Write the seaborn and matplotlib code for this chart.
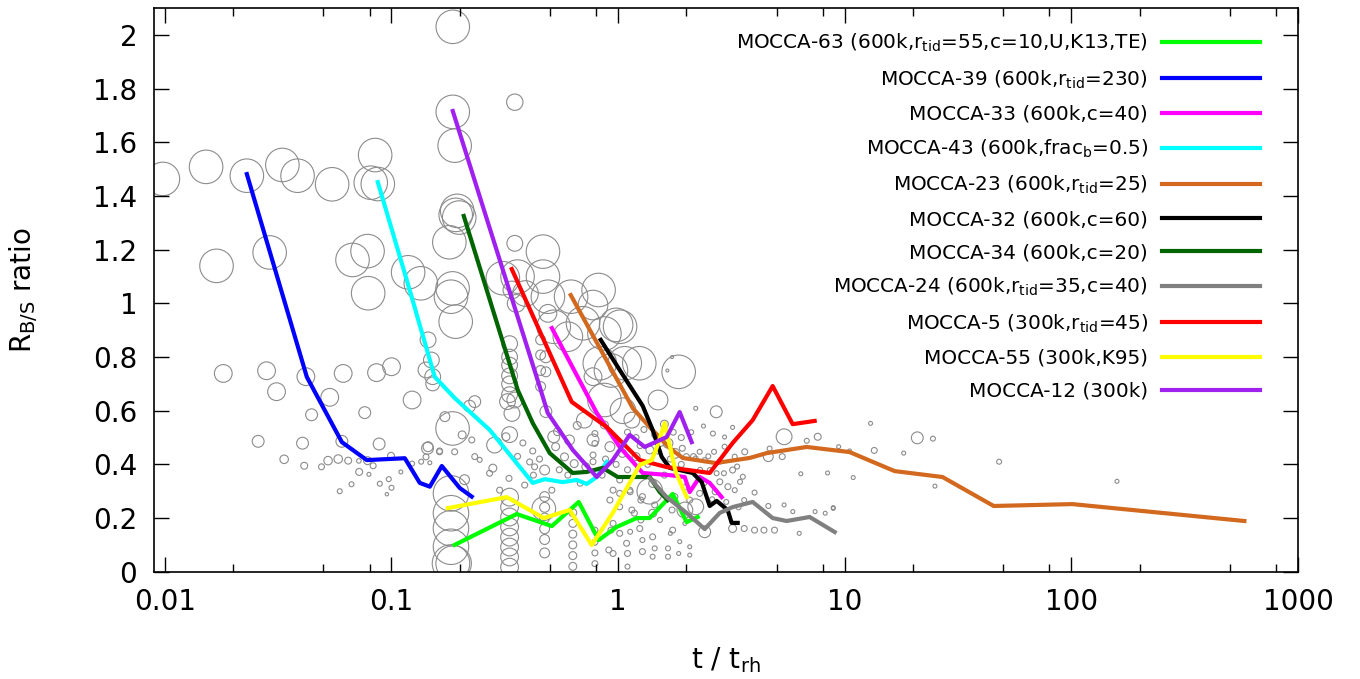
import numpy as np
import pandas as pd
import matplotlib
matplotlib.use("Agg")
import matplotlib.pyplot as plt
import seaborn as sns
from matplotlib.ticker import LogLocator, NullFormatter, FuncFormatter, MultipleLocator

plt.rcParams['font.family'] = ['DejaVu Sans']
plt.rcParams['mathtext.default'] = 'regular'

# ---------------- model curves (t / t_rh , R_B/S) ----------------
m63_t = [0.190, 0.357, 0.510, 0.670, 0.821, 0.986, 1.208, 1.378, 1.741, 2.007, 2.244]
m63_r = [0.100, 0.215, 0.170, 0.260, 0.118, 0.167, 0.200, 0.200, 0.290, 0.185, 0.204]

m39_t = [0.0230, 0.0423, 0.0604, 0.0778, 0.1145, 0.1333, 0.1476, 0.1667, 0.2001, 0.2260]
m39_r = [1.482, 0.726, 0.483, 0.416, 0.423, 0.331, 0.317, 0.394, 0.312, 0.280]

m33_t = [0.510, 0.8045, 1.016, 1.284, 1.689, 1.967, 2.069, 2.291, 2.536, 2.864]
m33_r = [0.908, 0.592, 0.465, 0.368, 0.360, 0.353, 0.297, 0.353, 0.331, 0.278]

m43_t = [0.0870, 0.1168, 0.1552, 0.1902, 0.2715, 0.420, 0.4746, 0.5694, 0.6568, 0.727, 0.8045, 0.891]
m43_r = [1.452, 1.087, 0.726, 0.647, 0.528, 0.331, 0.345, 0.334, 0.342, 0.327, 0.353, 0.409]

m23_t = [0.618, 1.160, 1.378, 1.689, 1.928, 2.695, 3.806, 4.523, 6.79, 10.5, 16.6, 27.0, 45.4, 101.0, 580.0]
m23_r = [1.031, 0.610, 0.539, 0.461, 0.424, 0.405, 0.424, 0.442, 0.465, 0.446, 0.375, 0.353, 0.245, 0.252, 0.189]

m32_t = [0.838, 1.016, 1.284, 1.421, 1.557, 1.689, 2.134, 2.338, 2.536, 2.722, 3.044, 3.170, 3.37]
m32_r = [0.864, 0.752, 0.618, 0.528, 0.428, 0.387, 0.368, 0.334, 0.245, 0.264, 0.230, 0.182, 0.182]

m34_t = [0.2084, 0.3607, 0.420, 0.4993, 0.6307, 0.727, 0.855, 0.996, 1.378, 1.526, 1.655]
m34_r = [1.326, 0.677, 0.554, 0.442, 0.368, 0.372, 0.387, 0.353, 0.353, 0.297, 0.267]

m24_t = [1.378, 1.638, 2.007, 2.41, 2.807, 3.203, 3.924, 4.345, 4.808, 5.54, 7.0, 9.03]
m24_r = [0.349, 0.278, 0.219, 0.159, 0.219, 0.241, 0.260, 0.230, 0.200, 0.189, 0.204, 0.148]

m5_t = [0.3394, 0.624, 0.891, 1.246, 1.638, 2.536, 3.203, 3.924, 4.808, 5.89, 7.366]
m5_r = [1.128, 0.633, 0.539, 0.416, 0.390, 0.368, 0.480, 0.565, 0.692, 0.550, 0.562]

m55_t = [0.1772, 0.3226, 0.4697, 0.6116, 0.7648, 0.947, 1.246, 1.407, 1.495, 1.605, 1.795, 2.007]
m55_r = [0.237, 0.278, 0.200, 0.230, 0.0995, 0.219, 0.398, 0.416, 0.472, 0.554, 0.372, 0.278]

m12_t = [0.1864, 0.4556, 0.489, 0.6307, 0.8045, 0.947, 1.125, 1.310, 1.638, 1.869, 2.112]
m12_r = [1.717, 0.677, 0.592, 0.454, 0.353, 0.416, 0.510, 0.465, 0.502, 0.595, 0.483]

labels = [
    'MOCCA-63 (600k,r$_{tid}$=55,c=10,U,K13,TE)',
    'MOCCA-39 (600k,r$_{tid}$=230)',
    'MOCCA-33 (600k,c=40)',
    'MOCCA-43 (600k,frac$_{b}$=0.5)',
    'MOCCA-23 (600k,r$_{tid}$=25)',
    'MOCCA-32 (600k,c=60)',
    'MOCCA-34 (600k,c=20)',
    'MOCCA-24 (600k,r$_{tid}$=35,c=40)',
    'MOCCA-5 (300k,r$_{tid}$=45)',
    'MOCCA-55 (300k,K95)',
    'MOCCA-12 (300k)',
]
colors = ['#00ff00', '#0000ff', '#ff00ff', '#00ffff', '#d2691e', '#000000',
          '#006400', '#808080', '#ff0000', '#ffff00', '#a020f0']
series_t = [m63_t, m39_t, m33_t, m43_t, m23_t, m32_t, m34_t, m24_t, m5_t, m55_t, m12_t]
series_r = [m63_r, m39_r, m33_r, m43_r, m23_r, m32_r, m34_r, m24_r, m5_r, m55_r, m12_r]

# ---------------- observed clusters: (t/t_rh, R_B/S, symbol size) ----------------
obs_big_left = [
    (0.0098, 1.464, 17), (0.0152, 1.509, 17), (0.0230, 1.476, 17), (0.0330, 1.516, 17),
    (0.0385, 1.476, 17), (0.0547, 1.444, 17), (0.0810, 1.450, 17), (0.0870, 1.445, 17),
    (0.0847, 1.553, 17), (0.0169, 1.140, 17), (0.0290, 1.190, 17), (0.0673, 1.162, 17),
    (0.0784, 1.195, 17), (0.1184, 1.116, 17), (0.1347, 1.075, 17), (0.0789, 1.038, 17),
    (0.1864, 2.031, 17), (0.1864, 1.714, 17), (0.1900, 1.588, 17), (0.1950, 1.345, 17),
    (0.1920, 1.330, 17), (0.1990, 1.320, 17), (0.1800, 1.228, 17), (0.1860, 1.056, 17),
    (0.1830, 1.025, 17), (0.1920, 0.932, 17), (0.1860, 0.534, 17), (0.1830, 0.292, 18),
    (0.1830, 0.218, 18), (0.1830, 0.162, 18), (0.1830, 0.093, 18), (0.1830, 0.031, 19),
    (0.1880, 0.031, 18),
]
obs_big_mid = [
    (0.466, 1.193, 17), (0.310, 1.094, 17), (0.360, 1.100, 17), (0.466, 1.100, 17),
    (0.490, 1.025, 17), (0.390, 1.037, 13), (0.620, 1.025, 17), (0.820, 1.050, 17),
    (0.775, 0.994, 15), (1.020, 0.913, 17), (0.700, 0.926, 17), (0.520, 0.913, 17),
    (0.600, 0.876, 15), (1.240, 0.777, 17), (0.830, 0.777, 17), (1.850, 0.745, 17),
    (1.070, 0.777, 17), (0.870, 0.888, 17), (0.930, 0.750, 17), (0.870, 0.640, 17),
    (1.050, 0.600, 13), (1.500, 0.640, 10), (0.980, 0.920, 17), (0.470, 0.235, 12),
    (1.380, 0.300, 13), (0.350, 1.750, 8.3), (0.350, 1.224, 8), (0.340, 1.050, 9),
    (0.355, 1.000, 9), (0.490, 0.963, 9), (0.775, 0.727, 9), (0.480, 0.801, 6),
    (0.480, 0.745, 5),
]
obs_small_left = [
    (0.0181, 0.739, 9), (0.0281, 0.749, 9), (0.0311, 0.671, 9), (0.0419, 0.727, 9),
    (0.0612, 0.739, 9), (0.0859, 0.742, 9), (0.0534, 0.650, 9), (0.1000, 0.764, 9),
    (0.1233, 0.640, 9), (0.0444, 0.585, 6), (0.0762, 0.593, 6), (0.0258, 0.486, 6),
    (0.0405, 0.479, 6), (0.0604, 0.486, 6), (0.0882, 0.476, 6), (0.1442, 0.460, 6),
    (0.0336, 0.419, 4.3), (0.0412, 0.395, 3.5), (0.0491, 0.391, 3), (0.0525, 0.414, 4.3),
    (0.0582, 0.420, 4.3), (0.0644, 0.414, 3.5), (0.0718, 0.413, 2.3), (0.0784, 0.414, 4),
    (0.0830, 0.395, 3), (0.0720, 0.372, 3.5), (0.0795, 0.363, 2), (0.0591, 0.300, 2.5),
    (0.0666, 0.326, 2.5), (0.0888, 0.328, 2.5), (0.0973, 0.345, 2.5), (0.0954, 0.289, 1.7),
    (0.1000, 0.313, 2.5), (0.1100, 0.372, 2), (0.1233, 0.403, 2.5), (0.0995, 0.432, 3.5),
    (0.1352, 0.410, 2.5), (0.1476, 0.406, 2), (0.1420, 0.428, 3), (0.1630, 0.447, 3),
    (0.1450, 0.864, 8), (0.1500, 0.789, 8), (0.1420, 0.752, 8), (0.1520, 0.727, 8),
    (0.1520, 0.700, 7),
]
obs_small_mid = [
    (0.172, 0.578, 5), (0.233, 0.634, 6), (0.221, 0.617, 6), (0.145, 0.466, 5),
    (0.163, 0.450, 3), (0.190, 0.447, 3), (0.233, 0.429, 3), (0.245, 0.417, 2.5),
    (0.210, 0.343, 5), (0.285, 0.472, 8), (0.320, 0.503, 4), (0.325, 0.634, 8),
    (0.350, 0.640, 8), (0.340, 0.590, 8), (0.332, 0.511, 8), (0.280, 0.386, 4),
    (0.271, 0.367, 3), (0.330, 0.348, 3), (0.300, 0.304, 3), (0.387, 0.323, 3),
    (0.407, 0.409, 3), (0.428, 0.391, 3), (0.423, 0.360, 3), (0.474, 0.379, 5),
    (0.480, 0.597, 6), (0.540, 0.522, 4), (0.530, 0.466, 4), (0.510, 0.304, 3),
    (0.580, 0.428, 4), (0.640, 0.403, 4), (0.660, 0.545, 4), (0.790, 0.515, 3),
    (0.790, 0.478, 3), (0.775, 0.435, 3), (0.775, 0.410, 3), (0.205, 0.510, 4),
    (0.226, 0.491, 3), (0.520, 0.503, 6), (0.720, 0.391, 4), (0.775, 0.491, 6),
    (0.870, 0.547, 4), (1.150, 0.565, 8), (0.710, 0.565, 8), (0.610, 0.491, 5),
    (0.600, 0.360, 3), (0.680, 0.330, 3), (0.550, 0.380, 3), (0.450, 0.420, 3),
    (0.420, 0.450, 3), (0.380, 0.480, 3), (0.360, 0.430, 3), (0.880, 0.420, 3),
    (0.850, 0.360, 3), (0.980, 0.400, 3),
]
obs_columns = [
    (0.332, 0.850, 8), (0.332, 0.800, 8), (0.332, 0.770, 8), (0.332, 0.730, 8),
    (0.332, 0.700, 8), (0.332, 0.660, 8),
    (0.332, 0.278, 9), (0.332, 0.241, 9), (0.332, 0.204, 9), (0.332, 0.167, 9),
    (0.332, 0.129, 9), (0.332, 0.092, 9), (0.332, 0.055, 9), (0.332, 0.017, 9),
    (0.455, 0.864, 5), (0.455, 0.808, 5), (0.455, 0.750, 5), (0.455, 0.690, 5),
    (0.474, 0.280, 5), (0.474, 0.240, 5), (0.474, 0.200, 5), (0.474, 0.160, 5),
    (0.474, 0.120, 5), (0.474, 0.070, 5),
    (0.631, 0.220, 4), (0.631, 0.180, 4), (0.631, 0.140, 4), (0.631, 0.100, 4),
    (0.631, 0.060, 4), (0.631, 0.020, 4),
    (0.790, 0.155, 3), (0.790, 0.110, 3), (0.790, 0.070, 3), (0.790, 0.030, 3),
]
obs_dense = [
    (0.950, 0.180, 3), (1.016, 0.143, 3), (1.090, 0.106, 3), (1.100, 0.068, 3),
    (0.950, 0.068, 3), (1.280, 0.075, 3), (1.180, 0.218, 3), (1.246, 0.161, 3),
    (1.420, 0.130, 3), (0.950, 0.304, 3), (1.016, 0.342, 3), (1.125, 0.304, 3),
    (1.280, 0.280, 3), (1.420, 0.329, 4), (1.420, 0.218, 4), (0.930, 0.155, 3),
    (0.910, 0.081, 3), (1.100, 0.019, 2.5), (1.280, 0.118, 2.5), (1.450, 0.087, 2.5),
    (1.420, 0.056, 2.5), (1.660, 0.087, 2.5), (1.660, 0.056, 2.5), (1.870, 0.112, 2),
    (1.850, 0.068, 2), (2.070, 0.093, 2), (2.070, 0.062, 2), (1.700, 0.143, 2),
    (1.130, 0.149, 2.5), (1.530, 0.193, 2.5), (1.740, 0.155, 3), (1.970, 0.180, 2),
    (2.410, 0.149, 6), (2.200, 0.242, 8), (1.970, 0.230, 8),
    (3.200, 0.161, 4), (3.600, 0.161, 3), (4.000, 0.155, 3), (4.400, 0.155, 3),
    (4.900, 0.155, 3), (6.300, 0.143, 2), (5.400, 0.249, 2), (5.900, 0.224, 2),
    (7.400, 0.224, 2), (8.200, 0.218, 2), (8.900, 0.236, 2), (6.400, 0.365, 2),
    (8.400, 0.368, 2), (10.90, 0.351, 2), (4.600, 0.245, 2.5), (3.600, 0.267, 2.5),
    (3.270, 0.304, 2.5), (3.450, 0.335, 2.5), (4.000, 0.295, 2.5), (3.550, 0.354, 2.5),
    (3.200, 0.379, 3), (2.930, 0.367, 2.5), (3.350, 0.392, 2.5), (3.620, 0.447, 3),
    (3.270, 0.429, 2.5), (2.950, 0.466, 2.5), (2.650, 0.447, 2.5), (2.620, 0.515, 2.5),
    (2.290, 0.447, 2.5), (2.200, 0.422, 2.5), (2.410, 0.416, 2.5), (2.540, 0.379, 2.5),
    (2.720, 0.367, 2.5), (2.810, 0.335, 3), (3.050, 0.317, 3), (2.680, 0.298, 3),
    (2.290, 0.292, 3), (2.000, 0.317, 3), (2.070, 0.267, 3), (1.780, 0.280, 3),
    (1.730, 0.230, 3), (1.450, 0.249, 3), (1.260, 0.267, 3), (1.130, 0.298, 3),
    (1.016, 0.292, 3), (0.920, 0.267, 3), (1.016, 0.242, 3), (1.150, 0.230, 3),
    (1.260, 0.193, 3), (0.920, 0.466, 5), (1.045, 0.441, 4), (1.200, 0.429, 4),
    (1.380, 0.454, 4), (1.530, 0.485, 5), (1.660, 0.479, 5), (1.780, 0.441, 5),
    (1.920, 0.460, 3), (2.000, 0.429, 3), (2.150, 0.429, 3), (1.730, 0.800, 1.5),
    (1.650, 0.750, 1.5), (2.710, 0.596, 6), (2.200, 0.609, 2), (2.380, 0.543, 2),
    (3.200, 0.538, 2), (2.950, 0.502, 2), (4.600, 0.429, 5), (5.300, 0.429, 3),
    (4.660, 0.459, 2.5), (5.400, 0.503, 8), (7.600, 0.503, 3.5),
    (1.100, 0.520, 3), (1.200, 0.500, 3), (1.300, 0.530, 3), (1.450, 0.510, 3),
    (1.600, 0.550, 4), (1.750, 0.520, 3), (1.900, 0.500, 3), (2.100, 0.520, 2.5),
    (1.250, 0.470, 3), (1.500, 0.450, 3), (1.700, 0.420, 3), (1.900, 0.400, 3),
    (2.300, 0.380, 2.5), (2.500, 0.430, 2.5), (2.800, 0.410, 2.5), (1.350, 0.400, 3),
    (1.100, 0.380, 3), (1.600, 0.360, 3), (2.400, 0.330, 2.5), (2.600, 0.270, 2.5),
    (3.000, 0.260, 2.5), (3.400, 0.240, 2.5),
]
obs_far = [
    (6.800, 0.488, 2.5), (13.00, 0.553, 2), (20.90, 0.499, 6), (24.50, 0.496, 2.5),
    (13.50, 0.452, 3), (9.400, 0.466, 2), (10.50, 0.450, 2), (18.20, 0.442, 2),
    (48.00, 0.410, 2.5), (25.00, 0.319, 2), (159.0, 0.337, 2), (8.900, 0.239, 2),
]

obs = pd.DataFrame(obs_big_left + obs_big_mid + obs_small_left + obs_small_mid
                   + obs_columns + obs_dense + obs_far,
                   columns=['t', 'ratio', 'size'])

# ---------------- figure ----------------
fig = plt.figure(figsize=(13.6, 6.79), dpi=100)
ax = fig.add_axes([0.1132, 0.158, 0.8412, 0.8298])

area = (1.42 * obs['size'].to_numpy()) ** 2
sns.scatterplot(data=obs, x='t', y='ratio', s=area, facecolors='none',
                edgecolor='#8c8c8c', linewidth=0.8, marker='o', legend=False,
                ax=ax, zorder=1)

for t, r, c, lab in zip(series_t, series_r, colors, labels):
    sns.lineplot(x=t, y=r, color=c, linewidth=3, sort=False, estimator=None,
                 label=lab, ax=ax, zorder=3)

ax.set_xscale('log')
ax.set_xlim(0.00895, 1000)
ax.set_ylim(0, 2.1)

ax.xaxis.set_major_locator(LogLocator(base=10, numticks=12))
ax.xaxis.set_minor_locator(LogLocator(base=10, subs=[2, 5, 8], numticks=12))
ax.xaxis.set_minor_formatter(NullFormatter())
ax.xaxis.set_major_formatter(FuncFormatter(lambda v, p: f'{v:g}'))
ax.yaxis.set_major_locator(MultipleLocator(0.2))
ax.yaxis.set_major_formatter(FuncFormatter(lambda v, p: f'{round(v, 1):g}'))

ax.tick_params(which='major', direction='in', top=True, right=True, length=10.8,
               width=1.0, labelsize=20, pad=12, colors='black')
ax.tick_params(which='minor', direction='in', top=True, right=True, length=5.8,
               width=1.0)
for sp in ax.spines.values():
    sp.set_color('black')
    sp.set_linewidth(1.2)

ax.set_xlabel('t / t$_{rh}$', fontsize=20)
ax.set_ylabel('R$_{B/S}$ ratio', fontsize=20)
ax.xaxis.set_label_coords(0.5, -0.13)
ax.yaxis.set_label_coords(-0.10, 0.5)

leg = ax.legend(loc='upper right', bbox_to_anchor=(0.9668, 0.958), frameon=False,
                markerfirst=False, fontsize=14.4, handlelength=4.9, handletextpad=0.7,
                labelspacing=0.70, borderpad=0, borderaxespad=0)

fig.savefig('out.png', dpi=100)
